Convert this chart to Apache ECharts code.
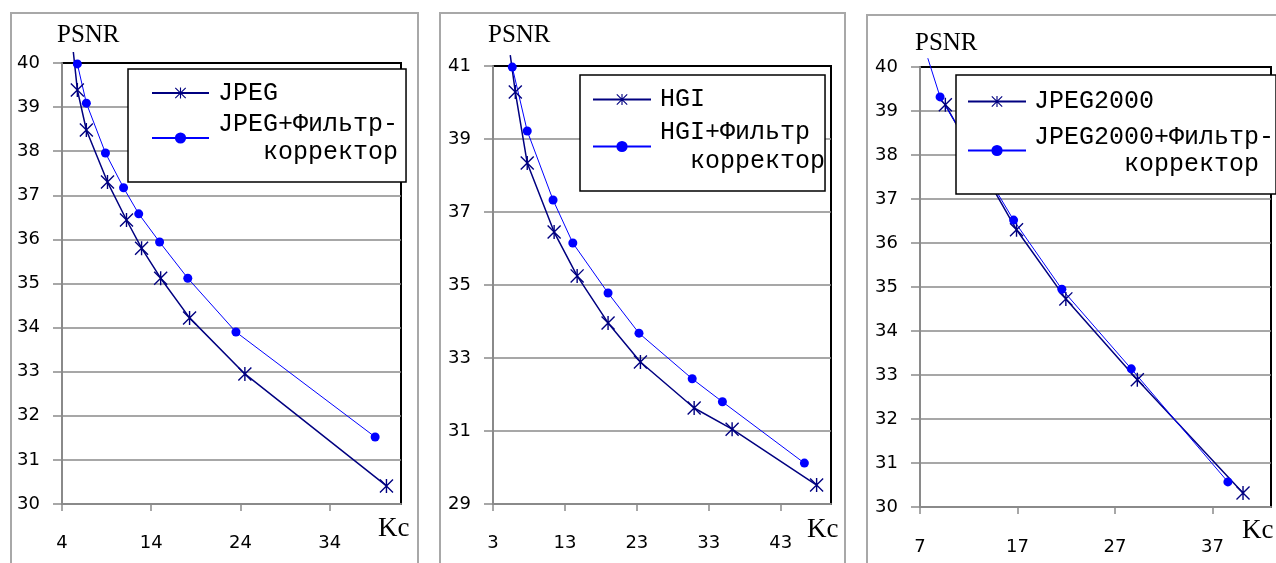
<!DOCTYPE html>
<html>
<head>
<meta charset="utf-8">
<title>PSNR / Kc</title>
<script src="https://cdn.jsdelivr.net/npm/echarts@6/dist/echarts.min.js"></script>
<style>
    html, body { margin: 0; padding: 0; background: #fff; }
    #main { width: 1276px; height: 563px; }
</style>
</head>
<body>
<div id="main"></div>
<script>
// --- JPEG ---
var jpegKc    = [5.27, 5.72, 6.73, 9.1, 11.23, 12.92, 15.06, 18.3, 24.5, 40.37];
var jpegPsnr  = [40.25, 39.39, 38.48, 37.30, 36.44, 35.80, 35.12, 34.22, 32.95, 30.41];
var jpegFKc   = [5.72, 6.73, 8.87, 10.9, 12.6, 14.94, 18.1, 23.5, 39.1];
var jpegFPsnr = [39.98, 39.09, 37.96, 37.17, 36.58, 35.94, 35.12, 33.9, 31.52];
// --- HGI ---
var hgiKc    = [5.4, 6.1, 7.76, 11.5, 14.7, 19.0, 23.5, 30.97, 36.25, 48.0];
var hgiPsnr  = [41.3, 40.29, 38.34, 36.45, 35.25, 33.96, 32.89, 31.63, 31.05, 29.52];
var hgiFKc   = [5.68, 7.76, 11.35, 14.1, 19.0, 23.3, 30.7, 34.9, 46.3];
var hgiFPsnr = [40.97, 39.22, 37.33, 36.15, 34.78, 33.68, 32.43, 31.8, 30.12];
// --- JPEG2000 ---
var j2kKc    = [9.6, 16.9, 21.96, 29.29, 40.13];
var j2kPsnr  = [39.14, 36.30, 34.73, 32.89, 30.32];
var j2kFKc   = [7.8, 9.06, 16.6, 21.55, 28.67, 38.58];
var j2kFPsnr = [40.2, 39.32, 36.52, 34.95, 33.14, 30.57];

// tick labels
var xTicks1 = [4, 14, 24, 34];
var yTicks1 = [30, 31, 32, 33, 34, 35, 36, 37, 38, 39, 40];
var xTicks2 = [3, 13, 23, 33, 43];
var yTicks2 = [29, 31, 33, 35, 37, 39, 41];
var xTicks3 = [7, 17, 27, 37];
var yTicks3 = [30, 31, 32, 33, 34, 35, 36, 37, 38, 39, 40];

var names1 = ['JPEG', 'JPEG+Фильтр-\n   корректор'];
var names2 = ['HGI', 'HGI+Фильтр\n  корректор'];
var names3 = ['JPEG2000', 'JPEG2000+Фильтр-\n      корректор'];

// asterisk marker (vertical bar + two diagonals)
var STAR = 'path://M45,0 L55,0 L55,100 L45,100 Z M7,0 L100,93 L93,100 L0,7 Z M93,0 L100,7 L7,100 L0,93 Z';
var GRAY = '#8a8a8a';

var panels = [
    { grid: {left: 62, top: 63, width: 339, height: 441}, xMax: 42, xTicks: xTicks1, yTicks: yTicks1,
      names: names1, a: [jpegKc, jpegPsnr], b: [jpegFKc, jpegFPsnr], labMargin: 30,
      lg: {left: 128, top: 69, padding: [10, 8, 2, 23], itemWidth: 57, itemGap: -11, lh: 28, pad: 4} },
    { grid: {left: 493, top: 66, width: 338, height: 438}, xMax: 50, xTicks: xTicks2, yTicks: yTicks2,
      names: names2, a: [hgiKc, hgiPsnr], b: [hgiFKc, hgiFPsnr], labMargin: 30,
      lg: {left: 580, top: 75, padding: [10, 0, 1, 12], itemWidth: 58, itemGap: -11, lh: 29, pad: 4} },
    { grid: {left: 920, top: 67, width: 351, height: 440}, xMax: 43, xTicks: xTicks3, yTicks: yTicks3,
      names: names3, a: [j2kKc, j2kPsnr], b: [j2kFKc, j2kFPsnr], labMargin: 31,
      lg: {left: 956, top: 75, padding: [13, 2, 3, 11], itemWidth: 58, itemGap: -5, lh: 27, pad: 3} }
];

function pts(kc, ps, top) {
    return kc.map(function (x, i) {
        var d = {value: [x, ps[i]]};
        if (ps[i] > top) d.symbol = 'none';   // line runs above the plot, no marker there
        return d;
    });
}

var option = {
    animation: false,
    grid: [], xAxis: [], yAxis: [], series: [], legend: [],
    graphic: []
};

var frames = [[11, 13, 407], [440, 13, 405], [867, 15, 430]];
var psnrPos = [[57, 35], [488, 35], [915, 43]];
var kcPos = [[378, 529], [807, 530], [1242, 531]];

panels.forEach(function (p, i) {
    var yMin = p.yTicks[0], yMax = p.yTicks[p.yTicks.length - 1];
    option.grid.push(Object.assign({show: true, borderColor: '#000', borderWidth: 2, backgroundColor: 'transparent'}, p.grid));
    option.xAxis.push({
        type: 'value', gridIndex: i, min: p.xTicks[0], max: p.xMax,
        axisLine: {onZero: false, lineStyle: {color: GRAY, width: 2}},
        axisTick: {customValues: p.xTicks, length: 7, lineStyle: {color: GRAY, width: 1.5}},
        axisLabel: {customValues: p.xTicks, margin: p.labMargin, color: '#000', fontFamily: 'DejaVu Sans', fontSize: 18},
        splitLine: {show: false}
    });
    option.yAxis.push({
        type: 'value', gridIndex: i, min: yMin, max: yMax,
        axisLine: {show: true, lineStyle: {color: GRAY, width: 2}},
        axisTick: {show: true, customValues: p.yTicks, length: 9, lineStyle: {color: GRAY, width: 1.5}},
        axisLabel: {customValues: p.yTicks, margin: 22, color: '#000', fontFamily: 'DejaVu Sans', fontSize: 18},
        splitLine: {show: true, showMaxLine: false, lineStyle: {color: GRAY, width: 1.5}}
    });
    option.series.push({
        type: 'line', name: p.names[0], xAxisIndex: i, yAxisIndex: i,
        data: pts(p.a[0], p.a[1], yMax), clip: false,
        symbol: STAR, symbolSize: 14, symbolKeepAspect: true,
        itemStyle: {color: '#000080'}, lineStyle: {color: '#000080', width: 1.5}
    });
    option.series.push({
        type: 'line', name: p.names[1], xAxisIndex: i, yAxisIndex: i,
        data: pts(p.b[0], p.b[1], yMax), clip: false,
        symbol: 'circle', symbolSize: 9,
        itemStyle: {color: '#0000ff'}, lineStyle: {color: '#0000ff', width: 1}
    });
    var lg = p.lg;
    option.legend.push({
        orient: 'vertical', left: lg.left, top: lg.top, padding: lg.padding,
        itemWidth: lg.itemWidth, itemHeight: 14, itemGap: lg.itemGap,
        backgroundColor: '#fff', borderColor: '#000', borderWidth: 1.5, borderRadius: 0,
        selectedMode: false,
        textStyle: {fontFamily: 'Liberation Mono', fontSize: 25, color: '#000', lineHeight: lg.lh},
        data: [
            {name: p.names[0], textStyle: {padding: [0, 0, 0, lg.pad]}},
            {name: p.names[1], textStyle: {padding: [lg.lh, 0, 0, lg.pad]}}
        ]
    });
    var f = frames[i];
    option.graphic.push({type: 'rect', z: -10, shape: {x: f[0], y: f[1], width: f[2], height: 600},
        style: {fill: 'none', stroke: '#a8a8a8', lineWidth: 2}, silent: true});
    option.graphic.push({type: 'text', x: psnrPos[i][0], y: psnrPos[i][1],
        style: {text: 'PSNR', fill: '#000', font: '25px "Liberation Serif"', verticalAlign: 'middle'}});
    option.graphic.push({type: 'text', x: kcPos[i][0], y: kcPos[i][1],
        style: {text: 'Kc', fill: '#000', font: '27px "Liberation Serif"', verticalAlign: 'middle'}});
});

var myChart = echarts.init(document.getElementById('main'));
myChart.setOption(option);
</script>
</body>
</html>
